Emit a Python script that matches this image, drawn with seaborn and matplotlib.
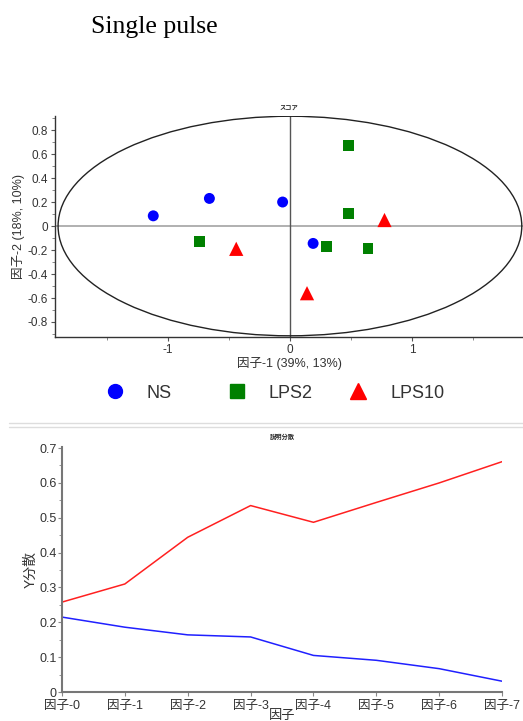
import matplotlib
matplotlib.use("Agg")
import matplotlib.pyplot as plt
import matplotlib.patches as mpatches
import matplotlib.lines as mlines
import seaborn as sns
import pandas as pd
import numpy as np

sns.set_style("white")
plt.rcParams['font.family'] = ['Liberation Sans', 'Noto Sans CJK JP', 'DejaVu Sans']

# ---- data: score plot ----
ns_x = [-1.12, -0.66, -0.06, 0.19]
ns_y = [0.085, 0.23, 0.20, -0.145]
lps2_x = [0.48, 0.48, -0.74, 0.30, 0.64]
lps2_y = [0.67, 0.105, -0.13, -0.17, -0.19]
lps10_x = [0.775, -0.44, 0.14]
lps10_y = [0.05, -0.19, -0.56]
groups = ["NS", "LPS2", "LPS10"]
colors = ["#0000ff", "#008000", "#ff0000"]
markers = ["o", "s", "^"]

# ---- data: variance plot ----
factor_labels = ["因子-0", "因子-1", "因子-2", "因子-3", "因子-4", "因子-5", "因子-6", "因子-7"]
red_vals = [0.258, 0.310, 0.444, 0.535, 0.487, 0.544, 0.600, 0.661]
blue_vals = [0.215, 0.186, 0.164, 0.158, 0.105, 0.091, 0.067, 0.031]

df = pd.DataFrame({
    "x": ns_x + lps2_x + lps10_x,
    "y": ns_y + lps2_y + lps10_y,
    "group": ["NS"] * len(ns_x) + ["LPS2"] * len(lps2_x) + ["LPS10"] * len(lps10_x),
})

W, H = 523, 721
fig = plt.figure(figsize=(5.23, 7.21), dpi=100)
fig.text(0.174, 1 - 27 / H, "Single pulse", family="Liberation Serif", fontsize=18.5, color="black",
         ha="left", va="center")

txt = "#333333"
# ---- top axes ----
ax1 = fig.add_axes([0.105, 0.5326, 0.895, 0.3065])
sns.scatterplot(data=df, x="x", y="y", hue="group", style="group", size="group",
                hue_order=groups, style_order=groups, size_order=groups,
                sizes=dict(zip(groups, [62, 62, 105])),
                palette=dict(zip(groups, colors)), markers=dict(zip(groups, markers)),
                edgecolor="none", ax=ax1, legend=False, zorder=5)
ax1.set_xlim(-1.926, 1.91)
ax1.set_ylim(-0.925, 0.917)
ax1.add_patch(mpatches.Ellipse((0, 0), 3.8, 1.83, fill=False, edgecolor="#222222", lw=1.0, zorder=3))
ax1.axhline(0, color="#aaaaaa", lw=1.3, zorder=2)
ax1.axvline(0, color="#555555", lw=1.0, zorder=2)
ax1.set_xticks([-1, 0, 1])
ax1.set_xticklabels(["-1", "0", "1"])
ax1.set_xticks([-1.5, -0.5, 0.5, 1.5], minor=True)
yt = [0.8, 0.6, 0.4, 0.2, 0, -0.2, -0.4, -0.6, -0.8]
ax1.set_yticks(yt)
ax1.set_yticklabels(["0.8", "0.6", "0.4", "0.2", "0", "-0.2", "-0.4", "-0.6", "-0.8"])
ax1.set_yticks(np.arange(-0.9, 0.95, 0.1), minor=True)
ax1.tick_params(axis="both", which="major", direction="out", length=3, width=0.8,
                colors="#555555", labelcolor=txt, labelsize=8.5, pad=2, left=True, bottom=True)
ax1.tick_params(axis="both", which="minor", direction="out", length=2, width=0.6,
                colors="#777777", left=True, bottom=True)
for s in ["top", "right"]:
    ax1.spines[s].set_visible(False)
for s in ["left", "bottom"]:
    ax1.spines[s].set_color("#333333")
    ax1.spines[s].set_linewidth(1.0)
ax1.set_xlabel("因子-1 (39%, 13%)", fontsize=9, color=txt, labelpad=1)
ax1.set_ylabel("因子-2 (18%, 10%)", fontsize=9, color=txt, labelpad=2)
ax1.set_title("スコア", fontsize=4.5, fontweight="bold", pad=4)

# legend: one entry per fixed-width slot
leg_fs = 13
fs_px = leg_fs * 100 / 72
marker_px = [115, 237, 358]
for g, m, c, ms, mx in zip(groups, markers, colors, [10, 10, 11], marker_px):
    h = mlines.Line2D([], [], linestyle="none", marker=m, color=c, markersize=ms)
    left = (mx - 0.5 * fs_px) / W
    leg = fig.legend([h], [g], loc="center left", bbox_to_anchor=(left, 1 - 393 / H),
                     frameon=False, fontsize=leg_fs, handlelength=1.0,
                     handletextpad=(32 - 0.5 * fs_px) / fs_px, borderpad=0, borderaxespad=0)
    for t in leg.get_texts():
        t.set_color(txt)

# separator lines
fig.add_artist(mlines.Line2D([0.017, 1.0], [1 - 422.7 / H] * 2, color="#dddddd", lw=1.0))
fig.add_artist(mlines.Line2D([0.017, 1.0], [1 - 427.3 / H] * 2, color="#dddddd", lw=1.0))

# ---- bottom axes ----
ax2 = fig.add_axes([0.1185, 0.0402, 0.8415, 0.3398])
xs = list(range(len(factor_labels)))
sns.lineplot(x=xs, y=red_vals, color="#ff2020", lw=1.1, ax=ax2)
sns.lineplot(x=xs, y=blue_vals, color="#2020ff", lw=1.1, ax=ax2)
ax2.set_xlim(0, 7)
ax2.set_ylim(0, 0.703)
ax2.set_xticks(xs)
ax2.set_xticklabels(factor_labels)
ax2.set_yticks([0, 0.1, 0.2, 0.3, 0.4, 0.5, 0.6, 0.7])
ax2.set_yticklabels(["0", "0.1", "0.2", "0.3", "0.4", "0.5", "0.6", "0.7"])
ax2.set_yticks(np.arange(0.05, 0.7, 0.1), minor=True)
ax2.tick_params(axis="both", which="major", direction="out", length=3, width=0.8,
                colors="#888888", labelcolor=txt, labelsize=9, left=True, bottom=True)
ax2.tick_params(axis="y", which="major", pad=1)
ax2.tick_params(axis="x", which="major", pad=2.5)
ax2.tick_params(axis="y", which="minor", direction="out", length=2, width=0.6,
                colors="#888888", left=True)
for s in ["top", "right"]:
    ax2.spines[s].set_visible(False)
for s in ["left", "bottom"]:
    ax2.spines[s].set_color("#777777")
    ax2.spines[s].set_linewidth(1.5)
ax2.set_xlabel("因子", fontsize=9.5, color=txt, labelpad=-1)
ax2.set_ylabel("Y分散", fontsize=10, color=txt, labelpad=1)
ax2.set_title("説明分散", fontsize=4.5, fontweight="bold", pad=6)

fig.savefig("out.png", dpi=100)
